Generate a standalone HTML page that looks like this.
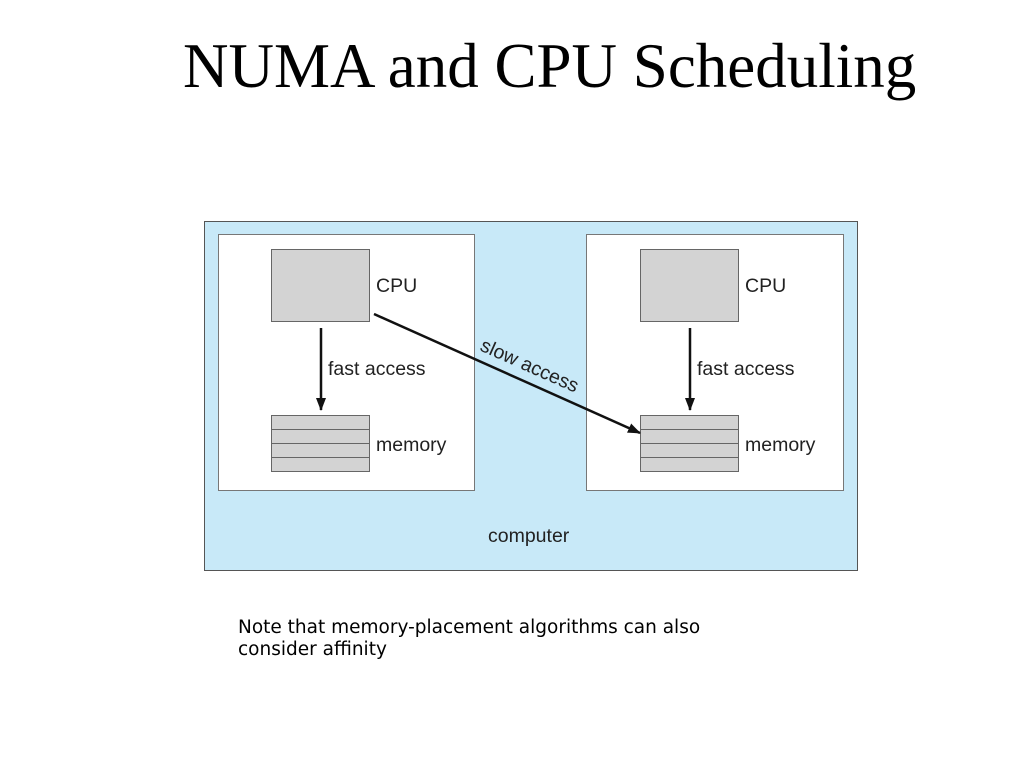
<!DOCTYPE html>
<html><head><style>
body{margin:0;width:1024px;height:768px;background:#fff;position:relative;overflow:hidden}
.t{position:absolute;left:183px;top:30px;white-space:nowrap;font:63px "Liberation Serif",serif;color:#000}
.n{position:absolute;left:238px;top:617px;font:18.5px "DejaVu Sans",sans-serif;line-height:22px;color:#000;white-space:nowrap}
</style></head><body>
<div class="t">NUMA and CPU Scheduling</div>
<svg width="1024" height="768" style="position:absolute;left:0;top:0">
<defs><marker id="a" markerWidth="14" markerHeight="14" refX="12" refY="6" orient="auto" markerUnits="userSpaceOnUse"><path d="M0,1 L13,6 L0,11 Z" fill="#111"/></marker></defs>
<rect x="204.5" y="221.5" width="653" height="349" fill="#c8e9f8" stroke="#555"/>
<rect x="218.5" y="234.5" width="256" height="256" fill="#fff" stroke="#777"/>
<rect x="586.5" y="234.5" width="257" height="256" fill="#fff" stroke="#777"/>
<g font-family="Liberation Sans,sans-serif" font-size="19.5" fill="#222">
<rect x="271.5" y="249.5" width="98" height="72" fill="#d3d3d3" stroke="#666"/>
<rect x="640.5" y="249.5" width="98" height="72" fill="#d3d3d3" stroke="#666"/>
<g fill="#d3d3d3" stroke="#666">
<rect x="271.5" y="415.5" width="98" height="14"/><rect x="271.5" y="429.5" width="98" height="14"/><rect x="271.5" y="443.5" width="98" height="14"/><rect x="271.5" y="457.5" width="98" height="14"/>
<rect x="640.5" y="415.5" width="98" height="14"/><rect x="640.5" y="429.5" width="98" height="14"/><rect x="640.5" y="443.5" width="98" height="14"/><rect x="640.5" y="457.5" width="98" height="14"/>
</g>
<line x1="321" y1="328" x2="321" y2="410" stroke="#111" stroke-width="2.5" marker-end="url(#a)"/>
<line x1="690" y1="328" x2="690" y2="410" stroke="#111" stroke-width="2.5" marker-end="url(#a)"/>
<line x1="374" y1="314" x2="640" y2="433" stroke="#111" stroke-width="2.5" marker-end="url(#a)"/>
<text x="376" y="292">CPU</text><text x="745" y="292">CPU</text>
<text x="328" y="375">fast access</text><text x="697" y="375">fast access</text>
<text x="376" y="451">memory</text><text x="745" y="451">memory</text>
<text x="488" y="542">computer</text>
<text transform="translate(479,350) rotate(24)">slow access</text>
</g>
</svg>
<div class="n">Note that memory-placement algorithms can also<br>consider affinity</div>
</body></html>
